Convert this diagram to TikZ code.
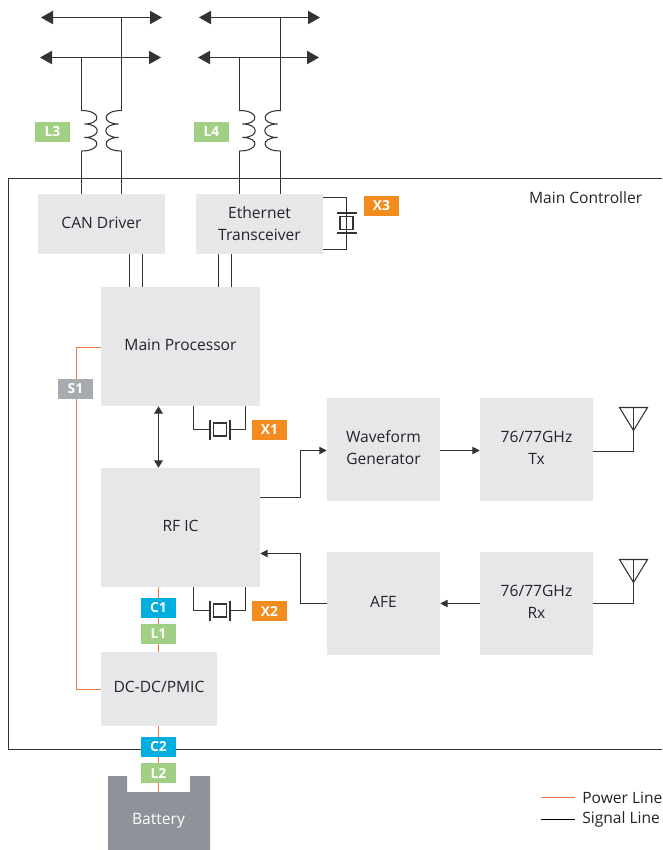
\documentclass[tikz,border=0pt]{standalone}
\usepackage{fontspec}
\setmainfont{Open Sans}
\usetikzlibrary{arrows.meta}
\definecolor{ink}{HTML}{222428}
\definecolor{wire}{HTML}{333335}
\definecolor{boxGrey}{HTML}{E6E7E9}
\definecolor{battGrey}{HTML}{8E9399}
\definecolor{power}{HTML}{EE7A45}
\definecolor{tagGreen}{HTML}{A1CF83}
\definecolor{tagBlue}{HTML}{00AEDF}
\definecolor{tagOrange}{HTML}{F28C1E}
\definecolor{tagGrey}{HTML}{A7ABAF}
\tikzset{
  blockbox/.style={fill=boxGrey, text=ink, inner sep=0pt, align=center,
    font=\fontsize{11.7}{16.5}\selectfont},
  tag/.style={fill=#1, text=white, inner sep=0pt, minimum width=26.25pt, minimum height=15pt,
    font=\fontsize{10.4}{12}\selectfont\bfseries},
  plain/.style={text=ink, inner sep=0pt, font=\fontsize{11.7}{14}\selectfont},
  sig/.style={draw=wire, line width=0.8pt},
  pwr/.style={draw=power, line width=0.75pt},
  bus/.style={sig, {Triangle[length=9pt,width=10pt]}-{Triangle[length=9pt,width=10pt]}},
  flow/.style={sig, -{Triangle[length=5.5pt,width=5.5pt]}},
  coil/.pic={
    \draw[sig] (0,0) .. controls (20,0) and (20,13.5) .. (3,13.5)
      .. controls (20,13.5) and (20,27) .. (3,27)
      .. controls (20,27) and (20,40.5) .. (0,40.5);
  },
  crystal/.pic={
    \coordinate (-l) at (-10,0);
    \coordinate (-r) at (10,0);
    \draw[sig] (-10,-10) -- (-10,10);
    \draw[sig] (10,-10) -- (10,10);
    \draw[sig] (-6.5,-6.5) rectangle (6.5,6.5);
  },
  antenna/.pic={
    \coordinate (-foot) at (0,0);
    \draw[sig] (0,-44) -- (0,0);
    \draw[sig] (-14,-44) -- (14,-44) -- (0,-21) -- cycle;
  }
}
\begin{document}
\begin{tikzpicture}[x=0.75pt,y=-0.75pt]
  \useasboundingbox (0,0) rectangle (662,850);
  \clip (0,0) rectangle (662,850);

  % frame
  \draw[sig] (662,178.5) -- (8.5,178.5) -- (8.5,749.5) -- (662,749.5);
  \node[plain, anchor=east] (title) at (642.5,197.5) {Main Controller};

  % blocks
  \node[blockbox, text depth=2.5pt, minimum width=95.25pt, minimum height=45pt] (can) at (101.5,224) {CAN Driver};
  \node[blockbox, minimum width=95.25pt, minimum height=45pt] (eth) at (259.5,224) {Ethernet\\Transceiver};
  \node[blockbox, text depth=2.5pt, minimum width=119.25pt, minimum height=89.25pt] (main) at (180.5,346.5) {Main Processor};
  \node[blockbox, text depth=2.5pt, minimum width=119.25pt, minimum height=89.25pt] (rf) at (180.5,527.5) {RF IC};
  \node[blockbox, text depth=2.5pt, minimum width=84.75pt, minimum height=77.25pt] (wave) at (383.5,449.5) {Waveform\\Generator};
  \node[blockbox, text depth=2pt, minimum width=84.75pt, minimum height=77.25pt] (tx) at (536.5,449.5) {76/77GHz\\Tx};
  \node[blockbox, text depth=2.5pt, minimum width=84.75pt, minimum height=77.25pt] (afe) at (383.5,603.5) {AFE};
  \node[blockbox, text depth=2pt, minimum width=84.75pt, minimum height=77.25pt] (rx) at (536.5,603.5) {76/77GHz\\Rx};
  \node[blockbox, text depth=2.5pt, minimum width=87pt, minimum height=55.5pt] (pmic) at (159,689) {DC-DC/PMIC};

  % battery
  \fill[battGrey] (108,850) -- (108,776) -- (127,776) -- (127,792) -- (190,792) -- (190,776) -- (210,776) -- (210,850) -- cycle;
  \node[plain, text=white] (batt) at (158.5,820.5) {Battery};
  \coordinate (battTop) at (158.5,792);

  % power lines
  \coordinate (railTop) at (76,347);
  \coordinate (railLow) at (76,689);
  \coordinate (railC) at (158.5,640);
  \draw[pwr] (main.west |- railTop) -- (railTop) -- (railLow) -- (pmic.west |- railLow);
  \draw[pwr] (railC |- rf.south) -- (railC |- pmic.north);
  \draw[pwr] (railC |- pmic.south) -- (battTop);

  % buses and coils
  \foreach \name/\xa/\xb/\bx in {A/81.5/121.5/0, B/239.5/280.5/158}{
    \coordinate (top\name) at (\xb,17.5);
    \coordinate (low\name) at (\xa,57.5);
    \coordinate (coilL\name) at (\xa,110.5);
    \coordinate (coilR\name) at (\xb,110.5);
    \coordinate (endL\name) at (\xa,151);
    \coordinate (endR\name) at (\xb,151);
    \coordinate (topW\name) at (41+\bx,17.5);
    \coordinate (topE\name) at (162+\bx,17.5);
    \coordinate (lowW\name) at (40+\bx,57.5);
    \coordinate (lowE\name) at (161+\bx,57.5);
    \draw[bus] (topW\name) -- (topE\name);
    \draw[bus] (lowW\name) -- (lowE\name);
    \draw[sig] (top\name) -- (coilR\name);
    \draw[sig] (low\name) -- (coilL\name);
    \pic at (coilL\name) {coil};
    \pic[xscale=-1] at (coilR\name) {coil};
  }
  \draw[sig] (endLA) -- (endLA |- can.north);
  \draw[sig] (endRA) -- (endRA |- can.north);
  \draw[sig] (endLB) -- (endLB |- eth.north);
  \draw[sig] (endRB) -- (endRB |- eth.north);

  % block links
  \foreach \x in {129.5,142.5}{
    \coordinate (tap) at (\x,270);
    \draw[sig] (tap |- can.south) -- (tap |- main.north);
  }
  \foreach \x in {218.5,231.5}{
    \coordinate (tap) at (\x,270);
    \draw[sig] (tap |- eth.south) -- (tap |- main.north);
  }
  \coordinate (link) at (158.5,437);
  \draw[sig, {Triangle[length=5.5pt,width=6.5pt]}-{Triangle[length=5.5pt,width=6.5pt]}] (link |- main.south) -- (link |- rf.north);
  \coordinate (upper) at (300.5,497.5);
  \coordinate (lower) at (300.5,553.5);
  \coordinate (waveIn) at (327,450.5);
  \coordinate (afeOut) at (327,603.5);
  \draw[flow] (rf.east |- upper) -- (upper) |- (wave.west |- waveIn);
  \draw[flow] (wave.east |- waveIn) -- (tx.west |- waveIn);
  \draw[sig] (afe.west |- afeOut) -| (lower);
  \draw[flow] (lower) -- (rf.east |- lower);
  \draw[flow] (rx.west) -- (afe.east);

  % crystals
  \pic (xa) at (220,429.5) {crystal};
  \pic (xb) at (220,610.5) {crystal};
  \pic[rotate=90] (xc) at (346.5,223) {crystal};
  \coordinate (xaL) at (193.5,420);
  \coordinate (xaR) at (245.5,420);
  \coordinate (xbL) at (193.5,600);
  \coordinate (xbR) at (245.5,600);
  \coordinate (xcT) at (323,197.5);
  \coordinate (xcB) at (323,249.5);
  \draw[sig] (xaL |- main.south) |- (xa-l);
  \draw[sig] (xaR |- main.south) |- (xa-r);
  \draw[sig] (xbL |- rf.south) |- (xb-l);
  \draw[sig] (xbR |- rf.south) |- (xb-r);
  \draw[sig] (xc-l) |- (eth.east |- xcT);
  \draw[sig] (xc-r) |- (eth.east |- xcB);

  % antennas
  \pic (anta) at (633.5,451.5) {antenna};
  \pic (antb) at (633.5,603.5) {antenna};
  \draw[sig] (tx.east |- anta-foot) -- (anta-foot);
  \draw[sig] (rx.east) -- (antb-foot);

  % tags
  \node[tag=tagGreen] (l3) at (52.5,132) {L3};
  \node[tag=tagGreen] (l4) at (211.5,132) {L4};
  \node[tag=tagOrange] (x3) at (381.5,206) {X3};
  \node[tag=tagOrange] (x1) at (269.5,430) {X1};
  \node[tag=tagOrange] (x2) at (269.5,611) {X2};
  \node[tag=tagBlue] (c1) at (158.5,608) {C1};
  \node[tag=tagGreen] (l1) at (158.5,634) {L1};
  \node[tag=tagBlue] (c2) at (158.5,747) {C2};
  \node[tag=tagGreen] (l2) at (158.5,773) {L2};
  \node[tag=tagGrey] (s1) at (75.5,388.5) {S1};

  % legend
  \node[plain, anchor=west] (pwrtxt) at (582,797.5) {Power Line};
  \node[plain, anchor=west] (sigtxt) at (582,819.5) {Signal Line};
  \coordinate (pwrkey) at (541,797);
  \coordinate (sigkey) at (541,819.5);
  \draw[pwr] (pwrkey) -- ++(34,0);
  \draw[draw=black, line width=0.75pt] (sigkey) -- ++(34,0);
\end{tikzpicture}
\end{document}
